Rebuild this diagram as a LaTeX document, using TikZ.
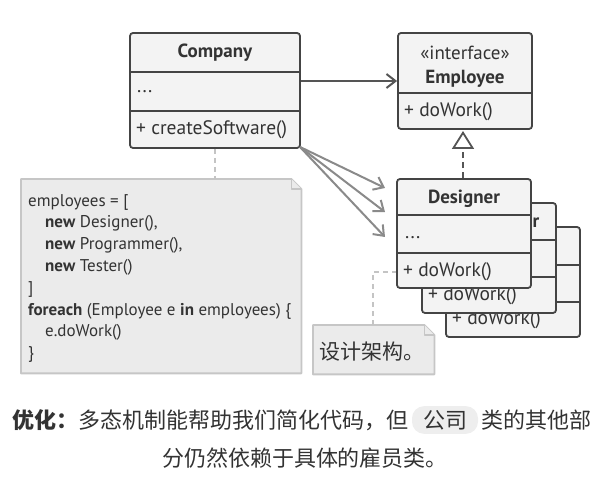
\documentclass[tikz,border=0pt]{standalone}
\usepackage{fontspec}
\setmainfont{PT Sans}
\newfontfamily\cjk{Noto Sans CJK SC}
\usetikzlibrary{arrows.meta}
\definecolor{boxfill}{HTML}{F3F3F3}
\definecolor{boxline}{HTML}{444444}
\definecolor{txt}{HTML}{333333}
\definecolor{notefill}{HTML}{EBEBEB}
\definecolor{noteline}{HTML}{C6C6C6}
\definecolor{arrdark}{HTML}{555555}
\definecolor{arrlight}{HTML}{8A8A8A}
\definecolor{dashc}{HTML}{C4C4C4}
\definecolor{bubble}{HTML}{EEEEEE}
\begin{document}
\begin{tikzpicture}[x=1pt,y=-1pt,
  classbox/.style={draw=boxline, fill=boxfill, line width=1.8pt, rounded corners=3pt, inner sep=0pt},
  divline/.style={draw=boxline, line width=1.8pt},
  ctitle/.style={font=\fontsize{19}{22}\selectfont\bfseries, text=txt, inner sep=0pt},
  cmember/.style={font=\fontsize{19.5}{22}\selectfont, text=txt, inner sep=0pt, anchor=west},
  notebox/.style={draw=noteline, fill=notefill, line width=1.8pt, line join=round},
  dashlink/.style={draw=dashc, line width=1.8pt, dash pattern=on 5pt off 4pt},
  assoc/.style={line width=2pt, -{Straight Barb[length=9pt, width=14pt, line width=2pt]}},
  captext/.style={inner sep=0pt, text=txt, font=\cjk\fontsize{22}{25}\selectfont},
]
\useasboundingbox (0,0) rectangle (606,489);

% ---------- Company ----------
\node[classbox, minimum width=170pt, minimum height=115pt] (company) at (215,90.5) {};
\draw[divline] (company.west |- 0,72) -- (company.east |- 0,72);
\draw[divline] (company.west |- 0,111) -- (company.east |- 0,111);
\node[ctitle] (companyt) at (215,53) {Company};
\node[cmember] (companya) at (137,92) {...};
\node[cmember] (companym) at (136,130) {+ createSoftware()};

% ---------- Employee ----------
\node[classbox, minimum width=134pt, minimum height=96pt] (employee) at (465,81) {};
\draw[divline] (employee.west |- 0,93) -- (employee.east |- 0,93);
\node[font=\fontsize{19}{22}\selectfont, text=txt, inner sep=0pt] (employees) at (465,53) {«interface»};
\node[ctitle] (employeet) at (465,79) {Employee};
\node[cmember] (employeem) at (404,112) {+ doWork()};

% ---------- Tester (back) ----------
\node[classbox, minimum width=134pt, minimum height=110pt] (tester) at (513,282) {};
\draw[divline] (tester.west |- 0,265) -- (tester.east |- 0,265);
\draw[divline] (tester.west |- 0,302) -- (tester.east |- 0,302);
\node[cmember] (testerm) at (452,320) {+ doWork()};

% ---------- Programmer (middle) ----------
\node[classbox, minimum width=134pt, minimum height=110pt] (programmer) at (489,258) {};
\draw[divline] (programmer.west |- 0,240) -- (programmer.east |- 0,240);
\draw[divline] (programmer.west |- 0,277) -- (programmer.east |- 0,277);
\node[ctitle] (programmert) at (489,223) {Programmer};
\node[cmember] (programmerm) at (428,296) {+ doWork()};

% ---------- Designer (front) ----------
\node[classbox, minimum width=134pt, minimum height=109pt] (designer) at (464,233.5) {};
\draw[divline] (designer.west |- 0,215) -- (designer.east |- 0,215);
\draw[divline] (designer.west |- 0,253) -- (designer.east |- 0,253);
\node[ctitle] (designert) at (464,199) {Designer};
\node[cmember] (designera) at (405,238) {...};
\node[cmember] (designerm) at (403,272) {+ doWork()};

% ---------- connectors ----------
\draw[assoc, draw=arrdark] (company.east |- 0,81) -- (employee.west |- 0,81);
\coordinate (t1) at (385,188);
\coordinate (t2) at (385,212);
\coordinate (t3) at (385,237);
\draw[assoc, draw=arrlight] ([xshift=-1pt,yshift=2pt]company.south east) -- (t1);
\draw[assoc, draw=arrlight] ([xshift=-1pt,yshift=2pt]company.south east) -- (t2);
\draw[assoc, draw=arrlight] ([xshift=-1pt,yshift=2pt]company.south east) -- (t3);
\draw[line width=1.8pt, draw=arrdark, dash pattern=on 6pt off 4pt,
  -{Triangle[open, length=18pt, width=22pt, line width=1.8pt]}]
  (designer.north -| 463,0) -- (463,131);

% ---------- code note ----------
\node[minimum width=280pt, minimum height=194pt, inner sep=0pt, anchor=north west] (note1) at (21,179) {};
\draw[notebox] (note1.north west) -- ([xshift=-10pt]note1.north east) -- ([yshift=-10pt]note1.north east)
  -- (note1.south east) -- (note1.south west) -- cycle;
\draw[notebox] ([xshift=-10pt]note1.north east) -- ([xshift=-10pt,yshift=-10pt]note1.north east) -- ([yshift=-10pt]note1.north east);
\node[anchor=north west, align=left, inner sep=0pt, text=txt,
  font=\fontsize{17}{21.8}\selectfont] (code) at (28,194)
{employees = [\\
\hspace*{17pt}\textbf{new} Designer(),\\
\hspace*{17pt}\textbf{new} Programmer(),\\
\hspace*{17pt}\textbf{new} Tester()\\
]\\
\textbf{foreach} (Employee e \textbf{in} employees) \{\\
\hspace*{17pt}e.doWork()\\
\}};
\draw[dashlink] (company.south -| 215,0) -- (note1.north -| 215,0);

% ---------- small note ----------
\node[minimum width=121pt, minimum height=49pt, inner sep=0pt, anchor=north west] (note2) at (313,325) {};
\draw[notebox] (note2.north west) -- ([xshift=-10pt]note2.north east) -- ([yshift=-10pt]note2.north east)
  -- (note2.south east) -- (note2.south west) -- cycle;
\draw[notebox] ([xshift=-10pt]note2.north east) -- ([xshift=-10pt,yshift=-10pt]note2.north east) -- ([yshift=-10pt]note2.north east);
\node[anchor=west, inner sep=0pt, text=txt, font=\cjk\fontsize{21}{24}\selectfont] (note2t) at (319,352) {设计架构。};
\coordinate (bend) at (373,272);
\draw[dashlink] (note2.north -| bend) -- (bend) -- (designer.west |- bend);

% ---------- caption ----------
\node[captext, fill=bubble, rounded corners=12pt, inner xsep=11pt, inner ysep=4pt] (bub) at (445,420) {公司};
\node[captext, anchor=east] (cap1) at ([xshift=-3pt]bub.west)
  {{\bfseries 优化：}多态机制能帮助我们简化代码，但};
\node[captext, anchor=west] (cap2) at ([xshift=3pt]bub.east) {类的其他部};
\node[captext] (cap3) at (305,458) {分仍然依赖于具体的雇员类。};
\end{tikzpicture}
\end{document}
